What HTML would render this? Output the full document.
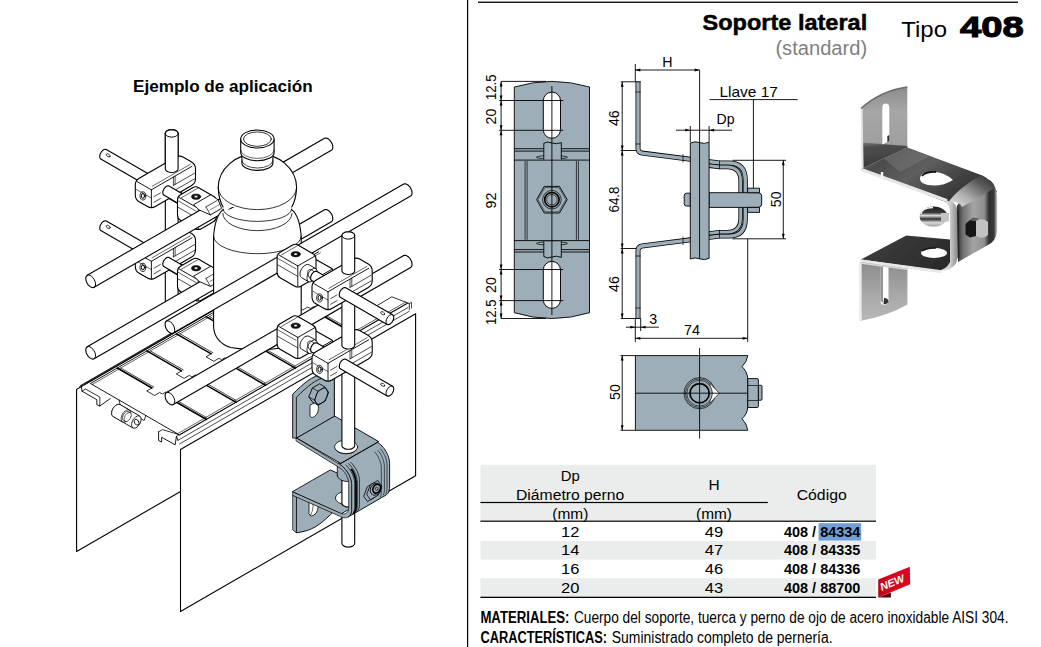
<!DOCTYPE html>
<html lang="es"><head><meta charset="utf-8"><title>Soporte lateral Tipo 408</title>
<style>
html,body{margin:0;padding:0;background:#fff;}
body{width:1041px;height:647px;overflow:hidden;font-family:"Liberation Sans",sans-serif;}
svg{display:block;font-family:"Liberation Sans",sans-serif;}
</style></head><body>
<svg width="1041" height="647" viewBox="0 0 1041 647">
<g stroke-linejoin="round" stroke-linecap="round">
<path d="M165.3 306.6 L165.6 307.7 L166.5 308.8 L167.9 309.6 L169.7 310.1 L171.7 310.3 L173.6 310.1 L175.4 309.6 L176.8 308.8 L177.8 307.7 L178.1 306.6 L178.1 133.4 L177.8 132.3 L176.8 131.2 L175.4 130.4 L173.6 129.9 L171.7 129.7 L169.7 129.9 L167.9 130.4 L166.5 131.2 L165.6 132.3 L165.3 133.4Z" fill="#fff" stroke="#000" stroke-width="1.1" stroke-linejoin="round"/><path d="M165.3 133.4 L165.6 134.5 L166.5 135.6 L167.9 136.4 L169.7 136.9 L171.7 137.1 L173.6 136.9 L175.4 136.4 L176.8 135.6 L177.8 134.5 L178.1 133.4" fill="none" stroke="#000" stroke-width="1" />
<path d="M76.6 389.5 L76.6 551.5 L206.5 476.5 L206.5 314.5Z" fill="#fff" stroke="#000" stroke-width="1.1" stroke-linejoin="round" />
<path d="M76.6 389.5 L311.7 253.8 L415.6 313.8 L180.5 449.5Z" fill="#fff" stroke="none" stroke-width="0" /><path d="M76.6 389.5L311.7 253.8" stroke="#000" stroke-width="0.9"/><path d="M79.5 386.6L307.7 254.9" stroke="#000" stroke-width="0.7"/><path d="M81.1 385.2L309.3 253.4" stroke="#000" stroke-width="0.7"/><path d="M85.5 383.6L313.7 251.9" stroke="#000" stroke-width="0.7"/><path d="M90.4 383.5 L318.6 251.8 L407.8 303.2 L179.6 435Z" fill="#fff" stroke="none" stroke-width="0" /><path d="M318.6 251.8 L90.4 383.5 L179.6 435 L407.8 303.2" fill="none" stroke="#000" stroke-width="0.9" /><path d="M92.2 384.5L320.4 252.8" stroke="#000" stroke-width="0.6"/><path d="M177.5 433.8L405.7 302" stroke="#000" stroke-width="0.6"/><path d="M117.3 368L151.9 388" stroke="#000" stroke-width="1.5"/><path d="M120.7 368L153.7 387" stroke="#000" stroke-width="0.7"/><path d="M167.5 397L206.5 419.5" stroke="#000" stroke-width="1.5"/><path d="M169.2 396L206.5 417.5" stroke="#000" stroke-width="0.7"/><path d="M151.9 388 L146.7 391 L154.5 395.5 L159.7 392.5 L162.3 394 L165.8 392 L171 395 L167.5 397" fill="none" stroke="#000" stroke-width="0.8" /><path d="M146.9 350.9L181.5 370.9" stroke="#000" stroke-width="1.5"/><path d="M150.4 350.9L183.3 369.9" stroke="#000" stroke-width="0.7"/><path d="M197.1 379.9L236.1 402.4" stroke="#000" stroke-width="1.5"/><path d="M198.9 378.9L236.1 400.4" stroke="#000" stroke-width="0.7"/><path d="M181.5 370.9 L176.3 373.9 L184.1 378.4 L189.3 375.4 L191.9 376.9 L195.4 374.9 L200.6 377.9 L197.1 379.9" fill="none" stroke="#000" stroke-width="0.8" /><path d="M176.5 333.8L211.2 353.8" stroke="#000" stroke-width="1.5"/><path d="M180 333.8L212.9 352.8" stroke="#000" stroke-width="0.7"/><path d="M226.7 362.8L265.7 385.3" stroke="#000" stroke-width="1.5"/><path d="M228.5 361.8L265.7 383.3" stroke="#000" stroke-width="0.7"/><path d="M211.2 353.8 L206 356.8 L213.8 361.3 L219 358.3 L221.5 359.8 L225 357.8 L230.2 360.8 L226.7 362.8" fill="none" stroke="#000" stroke-width="0.8" /><path d="M206.1 316.7L240.8 336.7" stroke="#000" stroke-width="1.5"/><path d="M209.6 316.7L242.5 335.7" stroke="#000" stroke-width="0.7"/><path d="M256.4 345.7L295.3 368.2" stroke="#000" stroke-width="1.5"/><path d="M258.1 344.7L295.3 366.2" stroke="#000" stroke-width="0.7"/><path d="M240.8 336.7 L235.6 339.7 L243.4 344.2 L248.6 341.2 L251.2 342.7 L254.6 340.7 L259.8 343.7 L256.4 345.7" fill="none" stroke="#000" stroke-width="0.8" /><path d="M235.8 299.6L270.4 319.6" stroke="#000" stroke-width="1.5"/><path d="M239.2 299.6L272.1 318.6" stroke="#000" stroke-width="0.7"/><path d="M286 328.6L324.9 351.1" stroke="#000" stroke-width="1.5"/><path d="M287.7 327.6L324.9 349.1" stroke="#000" stroke-width="0.7"/><path d="M270.4 319.6 L265.2 322.6 L273 327.1 L278.2 324.1 L280.8 325.6 L284.2 323.6 L289.4 326.6 L286 328.6" fill="none" stroke="#000" stroke-width="0.8" /><path d="M265.4 282.5L300 302.5" stroke="#000" stroke-width="1.5"/><path d="M268.8 282.5L301.7 301.5" stroke="#000" stroke-width="0.7"/><path d="M315.6 311.5L354.6 334" stroke="#000" stroke-width="1.5"/><path d="M317.3 310.5L354.6 332" stroke="#000" stroke-width="0.7"/><path d="M300 302.5 L294.8 305.5 L302.6 310 L307.8 307 L310.4 308.5 L313.9 306.5 L319.1 309.5 L315.6 311.5" fill="none" stroke="#000" stroke-width="0.8" /><path d="M295 265.4L329.6 285.4" stroke="#000" stroke-width="1.5"/><path d="M298.4 265.4L331.4 284.4" stroke="#000" stroke-width="0.7"/><path d="M345.2 294.4L384.2 316.9" stroke="#000" stroke-width="1.5"/><path d="M346.9 293.4L384.2 314.9" stroke="#000" stroke-width="0.7"/><path d="M329.6 285.4 L324.4 288.4 L332.2 292.9 L337.4 289.9 L340 291.4 L343.5 289.4 L348.7 292.4 L345.2 294.4" fill="none" stroke="#000" stroke-width="0.8" /><path d="M119 400 L120.7 407 L144.1 420.5 L145.9 415.5" fill="none" stroke="#000" stroke-width="0.8" /><path d="M119.8 404.6 L118.6 404.3 L117.2 404.6 L115.7 405.5 L114.2 406.8 L113 408.5 L112.1 410.5 L111.7 412.4 L111.7 414.1 L112.1 415.5 L113 416.4 L132.9 427.9 L134.2 428.2 L135.6 427.9 L137.1 427 L138.5 425.7 L139.7 424 L140.6 422 L141.1 420.1 L141.1 418.4 L140.6 417 L139.7 416.1Z" fill="#fff" stroke="#000" stroke-width="0.9" stroke-linejoin="round"/><path d="M139.7 416.1 L138.5 415.8 L137.1 416.1 L135.6 417 L134.2 418.3 L132.9 420 L132.1 422 L131.6 423.9 L131.6 425.6 L132.1 427 L132.9 427.9" fill="none" stroke="#000" stroke-width="0.8" /><path d="M119.8 404.6 L118.6 404.3 L117.2 404.6 L115.7 405.5 L114.2 406.8 L113 408.5 L112.1 410.5 L111.7 412.4 L111.7 414.1 L112.1 415.5 L113 416.4 L122.5 421.9 L123.8 422.2 L125.2 421.9 L126.7 421 L128.1 419.7 L129.3 418 L130.2 416 L130.7 414.1 L130.7 412.4 L130.2 411 L129.3 410.1Z" fill="#fff" stroke="#000" stroke-width="0.8" stroke-linejoin="round"/><path d="M129.3 410.1 L128.1 409.8 L126.7 410.1 L125.2 411 L123.8 412.3 L122.5 414 L121.7 416 L121.2 417.9 L121.2 419.6 L121.7 421 L122.5 421.9" fill="none" stroke="#000" stroke-width="0.7" /><path d="M128.4 411.7 L127.5 411.4 L126.5 411.6 L125.4 412.3 L124.3 413.3 L123.4 414.6 L122.8 416 L122.5 417.4 L122.5 418.7 L122.8 419.7 L123.4 420.3 L125.2 421.3 L126.1 421.6 L127.1 421.4 L128.2 420.7 L129.3 419.7 L130.2 418.4 L130.8 417 L131.2 415.6 L131.2 414.3 L130.8 413.3 L130.2 412.7Z" fill="#fff" stroke="#000" stroke-width="0.7" stroke-linejoin="round"/><path d="M130.2 412.7 L129.3 412.4 L128.2 412.6 L127.1 413.3 L126.1 414.3 L125.2 415.6 L124.5 417 L124.2 418.4 L124.2 419.7 L124.5 420.7 L125.2 421.3" fill="none" stroke="#000" stroke-width="0.6" /><ellipse cx="136.6" cy="422.2" rx="2.1" ry="3.2" fill="#fff" stroke="#000" stroke-width="0.8" transform="rotate(-30 136.6 422.2)"/><path d="M179.5 444L409.4 311.2" stroke="#000" stroke-width="0.7"/><path d="M178 440.3L407.9 307.6" stroke="#000" stroke-width="0.7"/><path d="M176.4 436.4L406.3 303.6" stroke="#000" stroke-width="0.7"/><path d="M158.6 431.8 L158.6 440.6 L161.6 442 L161.6 437.3 L175.2 444.8 L176.4 436.4 L178 440.3" fill="#fff" stroke="#000" stroke-width="0.9" /><path d="M158.6 431.8 L162.5 429.6 L178.6 434.5" fill="none" stroke="#000" stroke-width="0.8" /><path d="M81.1 385.2 L82 391.2 L96.8 399.7 L96.8 404.7 L99.8 406 L110.3 398.6" fill="none" stroke="#000" stroke-width="0.9" /><path d="M82 391.2 L85.5 389 L99.8 397 L99.8 406" fill="none" stroke="#000" stroke-width="0.8" /><path d="M376.5 306 L391.8 296.8 L409.3 303.6 L409.3 309.5" fill="none" stroke="#000" stroke-width="0.8" /><path d="M409.3 303.6 L411.5 302.3 L411.5 308" fill="none" stroke="#000" stroke-width="0.7" />
<path d="M106.3 221 L105.4 220.8 L104.2 221 L103 221.7 L101.8 222.8 L100.9 224.2 L100.1 225.8 L99.8 227.3 L99.8 228.7 L100.1 229.8 L100.8 230.6 L204.6 290.5 L205.6 290.7 L206.7 290.5 L208 289.8 L209.1 288.7 L210.1 287.3 L210.8 285.7 L211.2 284.2 L211.2 282.8 L210.8 281.7 L210.1 280.9Z" fill="#fff" stroke="#000" stroke-width="1.1" stroke-linejoin="round"/>
<ellipse cx="108.2" cy="226.9" rx="2.2" ry="1.3" fill="#fff" stroke="#000" stroke-width="0.7" transform="rotate(30 108.2 226.9)"/>
<path d="M106.3 149.5 L105.4 149.3 L104.2 149.5 L103 150.2 L101.8 151.3 L100.9 152.7 L100.1 154.3 L99.8 155.8 L99.8 157.2 L100.1 158.3 L100.8 159.1 L204.6 219 L205.6 219.2 L206.7 219 L208 218.3 L209.1 217.2 L210.1 215.8 L210.8 214.2 L211.2 212.7 L211.2 211.3 L210.8 210.2 L210.1 209.4Z" fill="#fff" stroke="#000" stroke-width="1.1" stroke-linejoin="round"/>
<ellipse cx="108.2" cy="155.4" rx="2.2" ry="1.3" fill="#fff" stroke="#000" stroke-width="0.7" transform="rotate(30 108.2 155.4)"/>
<path d="M135.3 266.5Q135.3 271 139.2 273.3L147.5 278Q151.4 280.3 155.3 278L191.6 257Q195.5 254.8 195.5 250.3L195.5 240.3Q195.5 235.8 191.6 233.5L183.4 228.8Q179.5 226.5 175.6 228.8L139.2 249.8Q135.3 252 135.3 256.5Z" fill="#fff" stroke="#000" stroke-width="1.1" stroke-linejoin="round"/><path d="M151.4 261.3L151.4 278.8" stroke="#000" stroke-width="0.9"/><path d="M151.4 261.3L192 237.8" stroke="#000" stroke-width="0.9"/><path d="M151.4 261.3L136.6 252.8" stroke="#000" stroke-width="0.9"/><path d="M154 268.1L160.4 264.4" stroke="#000" stroke-width="0.7"/><path d="M154 273.8L160.4 270.1" stroke="#000" stroke-width="0.7"/><path d="M173.4 256.9L194.7 244.6" stroke="#000" stroke-width="0.7"/><path d="M173.4 262.6L194.7 250.3" stroke="#000" stroke-width="0.7"/><path d="M173.4 248.6L173.4 256.9" stroke="#000" stroke-width="0.7"/><path d="M175.1 247.6L175.1 255.9" stroke="#000" stroke-width="0.7"/><path d="M152.2 257.8L190.3 235.8" stroke="#000" stroke-width="0.6"/><ellipse cx="142.9" cy="267.4" rx="2.9" ry="4.1" fill="#fff" stroke="#000" stroke-width="0.8"/><ellipse cx="142.9" cy="267.4" rx="1.6" ry="2.4" fill="none" stroke="#000" stroke-width="1"/><path d="M136.2 260.8L151.4 269.6" stroke="#000" stroke-width="0.6"/>
<path d="M169 257.6 L168.1 257.3 L167 257.5 L165.9 258.2 L164.8 259.3 L163.8 260.6 L163.2 262 L162.8 263.5 L162.8 264.8 L163.2 265.9 L163.8 266.6 L187.4 280.2 L188.4 280.4 L189.4 280.2 L190.6 279.6 L191.7 278.5 L192.6 277.2 L193.3 275.7 L193.7 274.3 L193.7 272.9 L193.3 271.9 L192.6 271.2Z" fill="#fff" stroke="#000" stroke-width="1.1" stroke-linejoin="round"/>
<path d="M177.5 286.4Q177.5 289.9 180.5 291.7L195.2 300.2Q198.3 301.9 201.3 300.2L213.4 293.2Q216.4 291.4 216.4 287.9L216.4 272.9Q216.4 269.4 213.4 267.7L198.7 259.2Q195.7 257.4 192.6 259.2L180.5 266.2Q177.5 267.9 177.5 271.4Z" fill="#fff" stroke="#000" stroke-width="1.1" stroke-linejoin="round"/><path d="M198.3 279.9L198.3 300.2" stroke="#000" stroke-width="0.9"/><path d="M198.3 279.9L215 270.3" stroke="#000" stroke-width="0.9"/><path d="M198.3 279.9L179.1 268.9" stroke="#000" stroke-width="0.9"/><path d="M178.3 278.9L198.3 290.4" stroke="#000" stroke-width="0.7"/><path d="M178.3 272.4L196.5 282.9" stroke="#000" stroke-width="0.6"/><path d="M181.4 269.2L197.8 259.7" stroke="#000" stroke-width="0.6"/><ellipse cx="196.1" cy="268.2" rx="4.6" ry="2.7" fill="#111" stroke="#000" stroke-width="0.5"/><ellipse cx="196.1" cy="268.2" rx="1.9" ry="1.1" fill="#fff" stroke="#000" stroke-width="0.4"/>
<path d="M331.4 221.8 L332.3 220.9 L332.8 219.5 L332.8 217.7 L332.3 215.8 L331.4 213.8 L330.1 212.1 L328.7 210.7 L327.2 209.8 L325.7 209.5 L324.5 209.8 L87.2 346.8 L86.3 347.8 L85.8 349.2 L85.8 350.9 L86.3 352.9 L87.2 354.8 L88.4 356.6 L89.9 357.9 L91.4 358.8 L92.9 359.1 L94.1 358.8Z" fill="#fff" stroke="#000" stroke-width="1.1" stroke-linejoin="round"/><path d="M94.1 358.8 L95 357.9 L95.5 356.5 L95.5 354.7 L95 352.8 L94.1 350.8 L92.9 349.1 L91.4 347.7 L89.9 346.8 L88.4 346.5 L87.2 346.8" fill="none" stroke="#000" stroke-width="1" />
<path d="M193.9 276.4 L199.1 281.4 L210.4 286.4 L221.6 279.9 L218.2 271.4 L211.2 266.4Z" fill="#fff" stroke="#000" stroke-width="0.9" stroke-linejoin="round"/><path d="M210.4 286.4L206 278.4" stroke="#000" stroke-width="0.7"/><path d="M206 278.4L217.3 271.9" stroke="#000" stroke-width="0.7"/><path d="M209.9 281.5L219.5 276" stroke="#000" stroke-width="0.5"/>
<path d="M135.3 195Q135.3 199.5 139.2 201.8L147.5 206.5Q151.4 208.8 155.3 206.5L191.6 185.5Q195.5 183.3 195.5 178.8L195.5 168.8Q195.5 164.3 191.6 162L183.4 157.3Q179.5 155 175.6 157.3L139.2 178.3Q135.3 180.5 135.3 185Z" fill="#fff" stroke="#000" stroke-width="1.1" stroke-linejoin="round"/><path d="M151.4 189.8L151.4 207.3" stroke="#000" stroke-width="0.9"/><path d="M151.4 189.8L192 166.3" stroke="#000" stroke-width="0.9"/><path d="M151.4 189.8L136.6 181.3" stroke="#000" stroke-width="0.9"/><path d="M154 196.6L160.4 192.9" stroke="#000" stroke-width="0.7"/><path d="M154 202.3L160.4 198.6" stroke="#000" stroke-width="0.7"/><path d="M173.4 185.4L194.7 173.1" stroke="#000" stroke-width="0.7"/><path d="M173.4 191.1L194.7 178.8" stroke="#000" stroke-width="0.7"/><path d="M173.4 177.1L173.4 185.4" stroke="#000" stroke-width="0.7"/><path d="M175.1 176.1L175.1 184.4" stroke="#000" stroke-width="0.7"/><path d="M152.2 186.3L190.3 164.3" stroke="#000" stroke-width="0.6"/><ellipse cx="142.9" cy="195.9" rx="2.9" ry="4.1" fill="#fff" stroke="#000" stroke-width="0.8"/><ellipse cx="142.9" cy="195.9" rx="1.6" ry="2.4" fill="none" stroke="#000" stroke-width="1"/><path d="M136.2 189.3L151.4 198.1" stroke="#000" stroke-width="0.6"/>
<path d="M165.3 168.8 L165.6 169.9 L166.5 171 L167.9 171.8 L169.7 172.3 L171.7 172.5 L173.6 172.3 L175.4 171.8 L176.8 171 L177.8 169.9 L178.1 168.8 L178.1 133.4 L177.8 132.3 L176.8 131.2 L175.4 130.4 L173.6 129.9 L171.7 129.7 L169.7 129.9 L167.9 130.4 L166.5 131.2 L165.6 132.3 L165.3 133.4Z" fill="#fff" stroke="#000" stroke-width="1.1" stroke-linejoin="round"/><path d="M165.3 133.4 L165.6 134.5 L166.5 135.6 L167.9 136.4 L169.7 136.9 L171.7 137.1 L173.6 136.9 L175.4 136.4 L176.8 135.6 L177.8 134.5 L178.1 133.4" fill="none" stroke="#000" stroke-width="1" />
<path d="M169 186.1 L168.1 185.8 L167 186 L165.9 186.7 L164.8 187.8 L163.8 189.1 L163.2 190.5 L162.8 192 L162.8 193.3 L163.2 194.4 L163.8 195.1 L187.4 208.7 L188.4 208.9 L189.4 208.7 L190.6 208.1 L191.7 207 L192.6 205.7 L193.3 204.2 L193.7 202.8 L193.7 201.4 L193.3 200.4 L192.6 199.7Z" fill="#fff" stroke="#000" stroke-width="1.1" stroke-linejoin="round"/>
<path d="M177.5 214.9Q177.5 218.4 180.5 220.2L195.2 228.7Q198.3 230.4 201.3 228.7L213.4 221.7Q216.4 219.9 216.4 216.4L216.4 201.4Q216.4 197.9 213.4 196.2L198.7 187.7Q195.7 185.9 192.6 187.7L180.5 194.7Q177.5 196.4 177.5 199.9Z" fill="#fff" stroke="#000" stroke-width="1.1" stroke-linejoin="round"/><path d="M198.3 208.4L198.3 228.7" stroke="#000" stroke-width="0.9"/><path d="M198.3 208.4L215 198.8" stroke="#000" stroke-width="0.9"/><path d="M198.3 208.4L179.1 197.4" stroke="#000" stroke-width="0.9"/><path d="M178.3 207.4L198.3 218.9" stroke="#000" stroke-width="0.7"/><path d="M178.3 200.9L196.5 211.4" stroke="#000" stroke-width="0.6"/><path d="M181.4 197.7L197.8 188.2" stroke="#000" stroke-width="0.6"/><ellipse cx="196.1" cy="196.7" rx="4.6" ry="2.7" fill="#111" stroke="#000" stroke-width="0.5"/><ellipse cx="196.1" cy="196.7" rx="1.9" ry="1.1" fill="#fff" stroke="#000" stroke-width="0.4"/>
<path d="M331.4 150.3 L332.3 149.4 L332.8 148 L332.8 146.2 L332.3 144.3 L331.4 142.3 L330.1 140.6 L328.7 139.2 L327.2 138.3 L325.7 138 L324.5 138.3 L87.2 275.3 L86.3 276.3 L85.8 277.7 L85.8 279.4 L86.3 281.4 L87.2 283.3 L88.4 285.1 L89.9 286.4 L91.4 287.3 L92.9 287.6 L94.1 287.3Z" fill="#fff" stroke="#000" stroke-width="1.1" stroke-linejoin="round"/><path d="M94.1 287.3 L95 286.4 L95.5 285 L95.5 283.2 L95 281.3 L94.1 279.3 L92.9 277.6 L91.4 276.2 L89.9 275.3 L88.4 275 L87.2 275.3" fill="none" stroke="#000" stroke-width="1" />
<path d="M193.9 204.9 L199.1 209.9 L210.4 214.9 L221.6 208.4 L218.2 199.9 L211.2 194.9Z" fill="#fff" stroke="#000" stroke-width="0.9" stroke-linejoin="round"/><path d="M210.4 214.9L206 206.9" stroke="#000" stroke-width="0.7"/><path d="M206 206.9L217.3 200.4" stroke="#000" stroke-width="0.7"/><path d="M209.9 210L219.5 204.5" stroke="#000" stroke-width="0.5"/>
<path d="M213.6 236.3L213.6 327Q214.6 342 230.4 347.5Q257.4 352 284.4 347.5Q300.2 342 301.2 327L301.2 236.3Q299.7 216 291.7 209.6L223.1 209.6Q215.1 216 213.6 236.3Z" fill="#fff" stroke="none" stroke-width="0" /><path d="M223.1 209.6Q215.1 216 213.6 236.3L213.6 327Q214.6 342 230.4 347.5Q257.4 352 284.4 347.5Q300.2 342 301.2 327L301.2 236.3Q299.7 216 291.7 209.6" fill="none" stroke="#000" stroke-width="1.1" /><path d="M213.6 236.3A43.8 17.4 0 0 0 301.2 236.3" fill="none" stroke="#000" stroke-width="0.8"/><path d="M222.8 213.5A34.3 17 0 0 0 292 213.5" fill="none" stroke="#000" stroke-width="0.8"/><path d="M223.1 209A34.3 12.4 0 0 0 291.7 209" fill="none" stroke="#000" stroke-width="0.8"/><path d="M218.2 187.6A39.2 34 0 0 1 296.6 187.6Q296 200 291.7 207L223.1 207Q218.8 200 218.2 187.6Z" fill="#fff" stroke="none" stroke-width="0" /><path d="M223.1 207Q218.8 200 218.2 187.6A39.2 34 0 0 1 296.6 187.6Q296 200 291.7 207" fill="none" stroke="#000" stroke-width="1.1" /><path d="M218.2 187.6A39.2 22 0 0 0 296.6 187.6" fill="none" stroke="#000" stroke-width="0.8"/><path d="M241.9 150L241.9 163A15.5 7.4 0 0 0 272.9 163L272.9 150Z" fill="#fff" stroke="#000" stroke-width="1.1" /><path d="M241.9 160.6A15.5 7.4 0 0 0 272.9 160.6" fill="none" stroke="#000" stroke-width="0.7"/><path d="M240.7 139L240.7 152.4A16.7 8.4 0 0 0 274.1 152.4L274.1 139Z" fill="#fff" stroke="#000" stroke-width="1.1" /><path d="M240.7 150A16.7 8.4 0 0 0 274.1 150" fill="none" stroke="#000" stroke-width="0.6"/><ellipse cx="257.4" cy="139" rx="16.7" ry="9" fill="#fff" stroke="#000" stroke-width="1.1"/><ellipse cx="257.4" cy="139.1" rx="13.9" ry="7.2" fill="none" stroke="#000" stroke-width="0.8"/>
<path d="M180.5 449.5 L180.5 611.5 L415.6 475.8 L415.6 313.8Z" fill="#fff" stroke="#000" stroke-width="1.1" stroke-linejoin="round" />
<path d="M410.6 267.6 L411.5 266.6 L412 265.2 L412 263.5 L411.5 261.5 L410.6 259.6 L409.4 257.8 L407.9 256.5 L406.4 255.6 L405 255.3 L403.7 255.6 L166.4 392.6 L165.5 393.5 L165.1 394.9 L165.1 396.7 L165.5 398.6 L166.4 400.6 L167.7 402.3 L169.1 403.7 L170.7 404.6 L172.1 404.9 L173.3 404.6Z" fill="#fff" stroke="#000" stroke-width="1.1" stroke-linejoin="round"/><path d="M173.3 404.6 L174.2 403.6 L174.7 402.2 L174.7 400.5 L174.2 398.5 L173.3 396.6 L172.1 394.8 L170.7 393.5 L169.1 392.6 L167.7 392.3 L166.4 392.6" fill="none" stroke="#000" stroke-width="1" />
<path d="M302.2 341.1Q302.2 341.9 302.9 342.4L319.7 352Q320.4 352.4 321.1 352L331.8 345.9Q332.5 345.4 332.5 344.6L332.5 341.2Q332.5 340.4 331.8 340L315 330.4Q314.3 329.9 313.6 330.4L302.9 336.5Q302.2 336.9 302.2 337.8Z" fill="#fff" stroke="#000" stroke-width="1.1" stroke-linejoin="round"/><path d="M320.4 347.4L320.4 352.1" stroke="#000" stroke-width="0.9"/><path d="M320.4 347.4L331.5 341" stroke="#000" stroke-width="0.9"/><path d="M320.4 347.4L303.6 337.8" stroke="#000" stroke-width="0.9"/><path d="M277.1 343.9Q277.1 347.4 280.1 349.2L294.8 357.7Q297.8 359.4 300.9 357.7L313 350.7Q316 348.9 316 345.4L316 330.4Q316 326.9 313 325.2L298.3 316.7Q295.2 314.9 292.2 316.7L280.1 323.7Q277.1 325.4 277.1 328.9Z" fill="#fff" stroke="#000" stroke-width="1.1" stroke-linejoin="round"/><path d="M297.8 337.4L297.8 357.7" stroke="#000" stroke-width="0.9"/><path d="M297.8 337.4L314.6 327.8" stroke="#000" stroke-width="0.9"/><path d="M297.8 337.4L278.7 326.4" stroke="#000" stroke-width="0.9"/><path d="M277.9 336.4L297.8 347.9" stroke="#000" stroke-width="0.7"/><path d="M277.9 329.9L296.1 340.4" stroke="#000" stroke-width="0.6"/><path d="M281 326.7L297.4 317.2" stroke="#000" stroke-width="0.6"/><ellipse cx="295.7" cy="325.7" rx="4.6" ry="2.7" fill="#111" stroke="#000" stroke-width="0.5"/><ellipse cx="295.7" cy="325.7" rx="1.9" ry="1.1" fill="#fff" stroke="#000" stroke-width="0.4"/><path d="M308.9 336.3 L307.6 335.9 L306 336.3 L304.4 337.2 L302.8 338.7 L301.5 340.6 L300.5 342.6 L300 344.7 L300 346.6 L300.5 348.1 L301.5 349.1 L308.4 353.1 L309.8 353.5 L311.3 353.1 L312.9 352.2 L314.5 350.7 L315.8 348.8 L316.8 346.8 L317.3 344.7 L317.3 342.8 L316.8 341.3 L315.8 340.3Z" fill="#fff" stroke="#000" stroke-width="0.9" stroke-linejoin="round"/><path d="M315.8 340.3 L314.5 339.9 L313 340.3 L311.3 341.2 L309.8 342.7 L308.4 344.6 L307.5 346.6 L307 348.7 L307 350.6 L307.5 352.1 L308.4 353.1" fill="none" stroke="#000" stroke-width="0.8" /><ellipse cx="312.1" cy="346.7" rx="3.6" ry="6.3" fill="none" stroke="#000" stroke-width="0.7" transform="rotate(-30 312.1 346.7)"/>
<path d="M296.4 497.5 L296.4 532.8 L300.2 532.2 L304 531.4 L307.8 530.3 L311.5 528.8 L315.3 526.9 L319.1 524.4 L322.9 521.5 L326.7 518.2 L330.5 514.6 L334.3 510.9 L334.3 475.5Z" fill="#9daeb9" stroke="#000" stroke-width="0.9" stroke-linejoin="round"/><path d="M292.7 495.4 L292.7 529.7 L296.4 532.8 L296.4 497.5Z" fill="#9daeb9" stroke="#000" stroke-width="0.7" stroke-linejoin="round"/><path d="M309 500.1L309 513.6Q310.7 518.6 316.2 513.1Q319.7 507.1 317.7 496.1Z" fill="#fff" stroke="#000" stroke-width="0.8" /><path d="M311.7 498.6Q315.2 506.1 310.7 515.1" fill="none" stroke="#000" stroke-width="0.6" /><path d="M341.9 543.4 L342.2 544.5 L343.2 545.6 L344.6 546.4 L346.4 546.9 L348.3 547.1 L350.3 546.9 L352.1 546.4 L353.5 545.6 L354.4 544.5 L354.7 543.4 L354.7 507.2 L354.4 506.1 L353.5 505.1 L352.1 504.3 L350.3 503.7 L348.3 503.6 L346.4 503.7 L344.6 504.3 L343.2 505.1 L342.2 506.1 L341.9 507.2Z" fill="#fff" stroke="#000" stroke-width="1.1" stroke-linejoin="round"/><path d="M292.7 491.9 L341.2 513.8 L379.2 491.9 L330.7 470.1Z" fill="#9daeb9" stroke="#000" stroke-width="0.9" stroke-linejoin="round"/><ellipse cx="346.6" cy="498" rx="11.2" ry="6.6" fill="#fff" stroke="#000" stroke-width="0.8"/><path d="M341.9 503.4 L342.2 504.5 L343.2 505.5 L344.6 506.3 L346.4 506.9 L348.3 507 L350.3 506.9 L352.1 506.3 L353.5 505.5 L354.4 504.5 L354.7 503.4 L354.7 460.6 L354.4 459.5 L353.5 458.4 L352.1 457.6 L350.3 457.1 L348.3 456.9 L346.4 457.1 L344.6 457.6 L343.2 458.4 L342.2 459.5 L341.9 460.6Z" fill="#fff" stroke="#000" stroke-width="1.1" stroke-linejoin="round"/><path d="M337.3 475.6L337.3 466.6A11 9 0 0 1 359.3 466.6L359.3 475.6A11 6 0 0 1 337.3 475.6Z" fill="#9daeb9" stroke="#000" stroke-width="0.8"/><path d="M339.5 464.3 L340.7 465.1 L341.9 465.9 L343 466.9 L344.1 468 L345.2 469.3 L346.2 470.5 L347.2 471.9 L348.1 473.4 L348.9 474.8 L349.6 476.3 L350.2 477.9 L350.7 479.4 L351.1 480.9 L351.4 482.4 L351.6 483.9 L351.6 485.3 L351.6 509.1 L351.6 510.5 L351.4 511.7 L351.1 512.9 L350.7 514 L350.2 514.9 L349.6 515.7 L348.9 516.4 L348.1 517 L386 495.1 L386.8 494.5 L387.5 493.8 L388.1 493 L388.6 492.1 L389 491 L389.3 489.8 L389.5 488.6 L389.6 487.2 L389.6 463.4 L389.5 462 L389.3 460.5 L389 459 L388.6 457.5 L388.1 456 L387.5 454.4 L386.8 452.9 L386 451.5 L385.1 450 L384.2 448.6 L383.1 447.4 L382.1 446.1 L380.9 445 L379.8 444 L378.6 443.2 L377.4 442.4Z" fill="#9daeb9" stroke="#000" stroke-width="0.9" stroke-linejoin="round"/><path d="M380.5 448.9 L381.6 450.1 L382.5 451.5 L383.4 453 L384.2 454.4 L384.9 455.9 L385.5 457.5 L386 459 L386.4 460.5 L386.7 462 L386.9 463.5 L387 464.9 L387 488.8 L386.9 490.1 L386.7 491.3 L386.4 492.5 L386 493.6" fill="none" stroke="#000" stroke-width="0.6" /><path d="M377.9 450.4 L379 451.6 L379.9 453 L380.8 454.5 L381.6 455.9 L382.3 457.4 L382.9 459 L383.4 460.5 L383.8 462 L384.1 463.5 L384.3 465 L384.4 466.4 L384.4 490.2 L384.3 491.6 L384.1 492.8 L383.8 494 L383.4 495.1" fill="none" stroke="#000" stroke-width="0.6" /><path d="M374.9 452.1 L375.9 453.4 L376.9 454.8 L377.8 456.2 L378.6 457.7 L379.3 459.2 L379.9 460.7 L380.4 462.3 L380.8 463.8 L381.1 465.3 L381.3 466.7 L381.3 468.1 L381.3 492 L381.3 493.3 L381.1 494.6 L380.8 495.8 L380.4 496.8" fill="none" stroke="#000" stroke-width="0.6" /><path d="M346 465.2 L347.2 466.3 L348.2 467.5 L349.3 468.8 L350.2 470.2 L351.1 471.6 L351.9 473.1 L352.6 474.6 L353.2 476.1 L353.7 477.7 L354.1 479.2 L354.4 480.7 L354.6 482.1 L354.7 483.5 L354.7 507.4 L354.6 508.7 L354.4 510 L354.1 511.2 L353.7 512.2 L353.2 513.2 L352.6 514" fill="none" stroke="#000" stroke-width="0.7" /><path d="M348.6 463.7 L349.8 464.8 L350.8 466 L351.9 467.3 L352.8 468.7 L353.7 470.1 L354.5 471.6 L355.2 473.1 L355.8 474.6 L356.3 476.2 L356.7 477.7 L357 479.2 L357.2 480.6 L357.3 482 L357.3 505.9 L357.2 507.2 L357 508.5 L356.7 509.7 L356.3 510.7 L355.8 511.7 L355.2 512.5" fill="none" stroke="#000" stroke-width="0.7" /><path d="M350.8 462.4 L351.9 463.5 L353 464.8 L354 466 L355 467.4 L355.9 468.9 L356.7 470.3 L357.4 471.8 L358 473.4 L358.5 474.9 L358.9 476.4 L359.2 477.9 L359.4 479.4 L359.4 480.8 L359.4 504.6 L359.4 506 L359.2 507.2 L358.9 508.4 L358.5 509.5 L358 510.4 L357.4 511.2" fill="none" stroke="#000" stroke-width="0.7" /><path d="M351.5 469.4 L352.4 470.9 L353.2 472.3 L353.9 473.8 L354.5 475.4 L355 476.9 L355.4 478.4 L355.7 479.9 L355.9 481.4 L356 482.8 L356 506.6 L355.9 508 L355.7 509.2 L355.4 510.4 L355 511.5 L354.5 512.4 L353.9 513.2" fill="none" stroke="#000" stroke-width="1.8" /><path d="M378.6 487.6 L374.9 482.3 L367.4 486.6 L363.7 496.2 L367.4 501.5 L374.9 497.2Z" fill="#9daeb9" stroke="#000" stroke-width="0.8" /><path d="M381.6 485.8 L377.9 480.5 L370.4 484.8 L366.7 494.4 L370.4 499.7 L377.9 495.4Z" fill="#9daeb9" stroke="#000" stroke-width="0.8" /><ellipse cx="375.6" cy="489.3" rx="5.2" ry="6.2" fill="#9daeb9" stroke="#000" stroke-width="0.8" transform="rotate(30 375.6 489.3)"/><ellipse cx="376.7" cy="488.7" rx="3.6" ry="4.6" fill="none" stroke="#000" stroke-width="1.7" transform="rotate(30 376.7 488.7)"/><ellipse cx="376.7" cy="488.7" rx="1.4" ry="1.8" fill="none" stroke="#000" stroke-width="0.6" transform="rotate(30 376.7 488.7)"/><path d="M296.4 437.8 L339.5 464.3 L340.7 465.1 L341.9 465.9 L343 466.9 L344.1 468 L345.2 469.3 L346.2 470.5 L347.2 471.9 L348.1 473.4 L348.9 474.8 L349.6 476.3 L350.2 477.9 L350.7 479.4 L351.1 480.9 L351.4 482.4 L351.6 483.9 L351.6 485.3 L351.6 509.1 L351.6 510.5 L351.4 511.7 L351.1 512.9 L350.7 514 L350.2 514.9 L349.6 515.7 L348.9 516.4 L348.1 517 L347.2 517.4 L346.2 517.7 L345.2 517.8 L344.1 517.8 L343 517.6 L341.9 517.2 L340.7 516.8 L339.5 516.1 L292.7 495.4 L292.7 491.9 L339.5 512.8 L340.4 513.2 L341.3 513.6 L342.2 513.8 L343 514 L343.8 514 L344.6 513.9 L345.3 513.7 L346 513.4 L346.6 513 L347.1 512.4 L347.6 511.8 L348 511.1 L348.3 510.3 L348.5 509.4 L348.6 508.5 L348.7 507.4 L348.7 483.6 L348.6 482.5 L348.5 481.4 L348.3 480.3 L348 479.1 L347.6 478 L347.1 476.8 L346.6 475.7 L346 474.6 L345.3 473.5 L344.6 472.4 L343.8 471.5 L343 470.5 L342.2 469.7 L341.3 468.9 L340.4 468.3 L339.5 467.7 L296.4 441.2Z" fill="#9daeb9" stroke="#000" stroke-width="0.7" stroke-linejoin="round"/><path d="M296.4 437.8 L340.8 463.4 L378.7 441.6 L334.3 415.9Z" fill="#9daeb9" stroke="#000" stroke-width="0.9" stroke-linejoin="round"/><path d="M340.8 463.4 L378.7 441.6" fill="none" stroke="#000" stroke-width="0.6" /><ellipse cx="346.1" cy="446.9" rx="11.6" ry="6.9" fill="#fff" stroke="#000" stroke-width="0.8"/><path d="M335.5 449.3A11.4 6.7 0 0 0 356.7 449.3" fill="none" stroke="#000" stroke-width="0.6"/><path d="M292.7 437.7 L292.7 394.2 L296.5 390.5 L300.3 386.9 L304.1 383.6 L307.9 380.7 L311.7 378.2 L315.5 376.3 L319.3 374.8 L323.1 373.7 L326.9 372.9 L330.7 372.3 L334.3 375.4 L334.3 415.9 L296.4 437.8Z" fill="#9daeb9" stroke="#000" stroke-width="0.9" stroke-linejoin="round"/><path d="M296.4 437.8 L296.4 397.3 L300.2 393.6 L304 390 L307.8 386.7 L311.5 383.8 L315.3 381.4 L319.1 379.4 L322.9 377.9 L326.7 376.8 L330.5 376 L334.3 375.4 L334.3 415.9Z" fill="#9daeb9" stroke="#000" stroke-width="0.8" stroke-linejoin="round"/><path d="M310 405.6L310 416.1Q312 419.6 316.5 414.6Q320 409.6 317.5 401.6Z" fill="#fff" stroke="#000" stroke-width="0.8" /><path d="M319.2 384 L312.3 388 L308.8 396.9 L312.3 401.8 L317.9 405.1 L324.9 401.1 L328.3 392.2 L324.9 387.2Z" fill="#9daeb9" stroke="#000" stroke-width="0.9" stroke-linejoin="round"/><path d="M328.3 392.2 L324.9 387.2 L317.9 391.2 L314.5 400.2 L317.9 405.1 L324.9 401.1Z" fill="#9daeb9" stroke="#000" stroke-width="0.8" stroke-linejoin="round"/><path d="M312.3 388 L317.9 391.2" fill="none" stroke="#000" stroke-width="0.7" /><path d="M308.8 396.9 L314.5 400.2" fill="none" stroke="#000" stroke-width="0.7" /><path d="M327.6 392.6 L327.4 390.8 L326.8 389.4 L325.8 388.5 L324.5 388.1 L323 388.3 L321.4 389 L319.8 390.1 L318.3 391.7 L317 393.6 L316 395.7 L315.4 397.8 L315.2 399.8 L315.4 401.5 L316 402.9 L317 403.8 L318.3 404.2 L319.8 404 L321.4 403.4 L323 402.2 L324.5 400.6 L325.8 398.7 L326.8 396.6 L327.4 394.5Z" fill="none" stroke="#000" stroke-width="0.6" />
<path d="M341.9 445.6 L342.2 446.7 L343.2 447.8 L344.6 448.6 L346.4 449.1 L348.3 449.3 L350.3 449.1 L352.1 448.6 L353.5 447.8 L354.4 446.7 L354.7 445.6 L354.7 360.3 L354.4 359.2 L353.5 358.1 L352.1 357.3 L350.3 356.8 L348.3 356.6 L346.4 356.8 L344.6 357.3 L343.2 358.1 L342.2 359.2 L341.9 360.3Z" fill="#fff" stroke="#000" stroke-width="1.1" stroke-linejoin="round"/>
<path d="M316.9 342.9 L316 342.7 L314.9 342.9 L313.7 343.6 L312.6 344.6 L311.7 345.9 L311 347.4 L310.7 348.9 L310.7 350.2 L311 351.3 L311.7 352 L324.5 359.3 L325.4 359.6 L326.5 359.4 L327.6 358.7 L328.7 357.6 L329.7 356.3 L330.3 354.9 L330.7 353.4 L330.7 352.1 L330.3 351 L329.7 350.3Z" fill="#fff" stroke="#000" stroke-width="1.1" stroke-linejoin="round"/>
<path d="M312 368.5Q312 373 315.9 375.3L324.1 380Q328 382.3 331.9 380L368.3 359Q372.2 356.8 372.2 352.3L372.2 342.3Q372.2 337.8 368.3 335.5L360.1 330.8Q356.2 328.5 352.3 330.8L315.9 351.8Q312 354 312 358.5Z" fill="#fff" stroke="#000" stroke-width="1.1" stroke-linejoin="round"/><path d="M328 363.3L328 380.8" stroke="#000" stroke-width="0.9"/><path d="M328 363.3L368.7 339.8" stroke="#000" stroke-width="0.9"/><path d="M328 363.3L313.3 354.8" stroke="#000" stroke-width="0.9"/><path d="M330.6 370.1L337 366.4" stroke="#000" stroke-width="0.7"/><path d="M330.6 375.8L337 372.1" stroke="#000" stroke-width="0.7"/><path d="M350 358.9L371.3 346.6" stroke="#000" stroke-width="0.7"/><path d="M350 364.6L371.3 352.3" stroke="#000" stroke-width="0.7"/><path d="M350 350.6L350 358.9" stroke="#000" stroke-width="0.7"/><path d="M351.8 349.6L351.8 357.9" stroke="#000" stroke-width="0.7"/><path d="M328.9 359.8L367 337.8" stroke="#000" stroke-width="0.6"/><ellipse cx="319.6" cy="369.4" rx="2.9" ry="4.1" fill="#fff" stroke="#000" stroke-width="0.8"/><ellipse cx="319.6" cy="369.4" rx="1.6" ry="2.4" fill="none" stroke="#000" stroke-width="1"/><path d="M312.9 362.8L328 371.6" stroke="#000" stroke-width="0.6"/>
<path d="M345.8 359.3 L344.9 359.1 L343.7 359.3 L342.5 360 L341.3 361.1 L340.3 362.5 L339.6 364 L339.3 365.6 L339.3 367 L339.6 368.1 L340.3 368.8 L387.1 395.9 L388.1 396.1 L389.3 395.9 L390.5 395.2 L391.7 394.1 L392.6 392.7 L393.4 391.1 L393.7 389.6 L393.7 388.2 L393.4 387.1 L392.6 386.3Z" fill="#fff" stroke="#000" stroke-width="1.1" stroke-linejoin="round"/><path d="M392.6 386.3 L391.7 386.1 L390.5 386.3 L389.3 387 L388.1 388.1 L387.2 389.5 L386.4 391.1 L386.1 392.6 L386.1 394 L386.4 395.1 L387.1 395.9" fill="none" stroke="#000" stroke-width="1" />
<ellipse cx="382.7" cy="384.8" rx="2.2" ry="1.3" fill="#fff" stroke="#000" stroke-width="0.7" transform="rotate(30 382.7 384.8)"/>
<path d="M410.6 196.1 L411.5 195.1 L412 193.7 L412 192 L411.5 190 L410.6 188.1 L409.4 186.3 L407.9 185 L406.4 184.1 L405 183.8 L403.7 184.1 L166.4 321.1 L165.5 322 L165.1 323.4 L165.1 325.2 L165.5 327.1 L166.4 329.1 L167.7 330.8 L169.1 332.2 L170.7 333.1 L172.1 333.4 L173.3 333.1Z" fill="#fff" stroke="#000" stroke-width="1.1" stroke-linejoin="round"/><path d="M173.3 333.1 L174.2 332.1 L174.7 330.7 L174.7 329 L174.2 327 L173.3 325.1 L172.1 323.3 L170.7 322 L169.1 321.1 L167.7 320.8 L166.4 321.1" fill="none" stroke="#000" stroke-width="1" />
<path d="M302.2 269.6Q302.2 270.4 302.9 270.9L319.7 280.5Q320.4 280.9 321.1 280.5L331.8 274.4Q332.5 273.9 332.5 273.1L332.5 269.8Q332.5 268.9 331.8 268.5L315 258.9Q314.3 258.4 313.6 258.9L302.9 265Q302.2 265.4 302.2 266.2Z" fill="#fff" stroke="#000" stroke-width="1.1" stroke-linejoin="round"/><path d="M320.4 275.9L320.4 280.6" stroke="#000" stroke-width="0.9"/><path d="M320.4 275.9L331.5 269.5" stroke="#000" stroke-width="0.9"/><path d="M320.4 275.9L303.6 266.3" stroke="#000" stroke-width="0.9"/><path d="M277.1 272.4Q277.1 275.9 280.1 277.7L294.8 286.2Q297.8 287.9 300.9 286.2L313 279.2Q316 277.4 316 273.9L316 258.9Q316 255.4 313 253.7L298.3 245.2Q295.2 243.4 292.2 245.2L280.1 252.2Q277.1 253.9 277.1 257.4Z" fill="#fff" stroke="#000" stroke-width="1.1" stroke-linejoin="round"/><path d="M297.8 265.9L297.8 286.2" stroke="#000" stroke-width="0.9"/><path d="M297.8 265.9L314.6 256.3" stroke="#000" stroke-width="0.9"/><path d="M297.8 265.9L278.7 254.9" stroke="#000" stroke-width="0.9"/><path d="M277.9 264.9L297.8 276.4" stroke="#000" stroke-width="0.7"/><path d="M277.9 258.4L296.1 268.9" stroke="#000" stroke-width="0.6"/><path d="M281 255.2L297.4 245.7" stroke="#000" stroke-width="0.6"/><ellipse cx="295.7" cy="254.2" rx="4.6" ry="2.7" fill="#111" stroke="#000" stroke-width="0.5"/><ellipse cx="295.7" cy="254.2" rx="1.9" ry="1.1" fill="#fff" stroke="#000" stroke-width="0.4"/><path d="M308.9 264.8 L307.6 264.4 L306 264.8 L304.4 265.7 L302.8 267.2 L301.5 269.1 L300.5 271.1 L300 273.2 L300 275.1 L300.5 276.6 L301.5 277.6 L308.4 281.6 L309.8 282 L311.3 281.6 L312.9 280.7 L314.5 279.2 L315.8 277.3 L316.8 275.3 L317.3 273.2 L317.3 271.3 L316.8 269.8 L315.8 268.8Z" fill="#fff" stroke="#000" stroke-width="0.9" stroke-linejoin="round"/><path d="M315.8 268.8 L314.5 268.4 L313 268.8 L311.3 269.7 L309.8 271.2 L308.4 273.1 L307.5 275.1 L307 277.2 L307 279.1 L307.5 280.6 L308.4 281.6" fill="none" stroke="#000" stroke-width="0.8" /><ellipse cx="312.1" cy="275.2" rx="3.6" ry="6.3" fill="none" stroke="#000" stroke-width="0.7" transform="rotate(-30 312.1 275.2)"/>
<path d="M316.9 271.4 L316 271.2 L314.9 271.4 L313.7 272.1 L312.6 273.1 L311.7 274.4 L311 275.9 L310.7 277.4 L310.7 278.7 L311 279.8 L311.7 280.5 L324.5 287.8 L325.4 288.1 L326.5 287.9 L327.6 287.2 L328.7 286.1 L329.7 284.8 L330.3 283.4 L330.7 281.9 L330.7 280.6 L330.3 279.5 L329.7 278.8Z" fill="#fff" stroke="#000" stroke-width="1.1" stroke-linejoin="round"/>
<path d="M341.9 345.3 L342.2 346.4 L343.2 347.5 L344.6 348.3 L346.4 348.8 L348.3 349 L350.3 348.8 L352.1 348.3 L353.5 347.5 L354.4 346.4 L354.7 345.3 L354.7 288.8 L354.4 287.7 L353.5 286.6 L352.1 285.8 L350.3 285.3 L348.3 285.1 L346.4 285.3 L344.6 285.8 L343.2 286.6 L342.2 287.7 L341.9 288.8Z" fill="#fff" stroke="#000" stroke-width="1.1" stroke-linejoin="round"/>
<path d="M312 297Q312 301.5 315.9 303.8L324.1 308.5Q328 310.8 331.9 308.5L368.3 287.5Q372.2 285.3 372.2 280.8L372.2 270.8Q372.2 266.3 368.3 264L360.1 259.3Q356.2 257 352.3 259.3L315.9 280.3Q312 282.5 312 287Z" fill="#fff" stroke="#000" stroke-width="1.1" stroke-linejoin="round"/><path d="M328 291.8L328 309.3" stroke="#000" stroke-width="0.9"/><path d="M328 291.8L368.7 268.3" stroke="#000" stroke-width="0.9"/><path d="M328 291.8L313.3 283.3" stroke="#000" stroke-width="0.9"/><path d="M330.6 298.6L337 294.9" stroke="#000" stroke-width="0.7"/><path d="M330.6 304.3L337 300.6" stroke="#000" stroke-width="0.7"/><path d="M350 287.4L371.3 275.1" stroke="#000" stroke-width="0.7"/><path d="M350 293.1L371.3 280.8" stroke="#000" stroke-width="0.7"/><path d="M350 279.1L350 287.4" stroke="#000" stroke-width="0.7"/><path d="M351.8 278.1L351.8 286.4" stroke="#000" stroke-width="0.7"/><path d="M328.9 288.3L367 266.3" stroke="#000" stroke-width="0.6"/><ellipse cx="319.6" cy="297.9" rx="2.9" ry="4.1" fill="#fff" stroke="#000" stroke-width="0.8"/><ellipse cx="319.6" cy="297.9" rx="1.6" ry="2.4" fill="none" stroke="#000" stroke-width="1"/><path d="M312.9 291.3L328 300.1" stroke="#000" stroke-width="0.6"/>
<path d="M341.9 270.8 L342.2 271.9 L343.2 273 L344.6 273.8 L346.4 274.3 L348.3 274.5 L350.3 274.3 L352.1 273.8 L353.5 273 L354.4 271.9 L354.7 270.8 L354.7 235.4 L354.4 234.3 L353.5 233.2 L352.1 232.4 L350.3 231.9 L348.3 231.7 L346.4 231.9 L344.6 232.4 L343.2 233.2 L342.2 234.3 L341.9 235.4Z" fill="#fff" stroke="#000" stroke-width="1.1" stroke-linejoin="round"/><path d="M341.9 235.4 L342.2 236.5 L343.2 237.6 L344.6 238.4 L346.4 238.9 L348.3 239.1 L350.3 238.9 L352.1 238.4 L353.5 237.6 L354.4 236.5 L354.7 235.4" fill="none" stroke="#000" stroke-width="1" />
<path d="M345.8 287.8 L344.9 287.6 L343.7 287.8 L342.5 288.5 L341.3 289.6 L340.3 291 L339.6 292.5 L339.3 294.1 L339.3 295.5 L339.6 296.6 L340.3 297.3 L387.1 324.4 L388.1 324.6 L389.3 324.4 L390.5 323.7 L391.7 322.6 L392.6 321.2 L393.4 319.6 L393.7 318.1 L393.7 316.7 L393.4 315.6 L392.6 314.8Z" fill="#fff" stroke="#000" stroke-width="1.1" stroke-linejoin="round"/><path d="M392.6 314.8 L391.7 314.6 L390.5 314.8 L389.3 315.5 L388.1 316.6 L387.2 318 L386.4 319.6 L386.1 321.1 L386.1 322.5 L386.4 323.6 L387.1 324.4" fill="none" stroke="#000" stroke-width="1" />
<ellipse cx="382.7" cy="313.2" rx="2.2" ry="1.3" fill="#fff" stroke="#000" stroke-width="0.7" transform="rotate(30 382.7 313.2)"/>
</g>
<defs>
<filter id="pb" x="-5%" y="-5%" width="110%" height="110%"><feGaussianBlur stdDeviation="0.75"/></filter>
<linearGradient id="pf1" x1="0" y1="0" x2="0" y2="1"><stop offset="0" stop-color="#8c8c8c"/><stop offset="0.3" stop-color="#a6a6a6"/><stop offset="1" stop-color="#9a9a9a"/></linearGradient>
<linearGradient id="pf1b" x1="0" y1="0" x2="0.18" y2="1"><stop offset="0" stop-color="#7a7a7a"/><stop offset="0.2" stop-color="#4e4e4e"/><stop offset="1" stop-color="#3a3a3a"/></linearGradient>
<linearGradient id="pf2" x1="0" y1="0" x2="1" y2="0.55"><stop offset="0" stop-color="#767676"/><stop offset="0.22" stop-color="#4c4c4c"/><stop offset="0.5" stop-color="#5e5e5e"/><stop offset="0.8" stop-color="#404040"/><stop offset="1" stop-color="#303030"/></linearGradient>
<linearGradient id="pf3" x1="0" y1="0" x2="1" y2="0"><stop offset="0" stop-color="#2a2a2a"/><stop offset="0.14" stop-color="#6e6e6e"/><stop offset="0.4" stop-color="#a4a4a4"/><stop offset="0.68" stop-color="#8e8e8e"/><stop offset="0.8" stop-color="#2e2e2e"/><stop offset="0.92" stop-color="#3a3a3a"/><stop offset="1" stop-color="#cfcfcf"/></linearGradient>
<linearGradient id="pf3b" x1="0" y1="1" x2="1" y2="0"><stop offset="0" stop-color="#e4e4e4"/><stop offset="0.35" stop-color="#b0b0b0"/><stop offset="0.7" stop-color="#5a5a5a"/><stop offset="1" stop-color="#2a2a2a"/></linearGradient>
<linearGradient id="pf4" x1="0" y1="0" x2="1" y2="0.4"><stop offset="0" stop-color="#6e6e6e"/><stop offset="0.3" stop-color="#3a3a3a"/><stop offset="1" stop-color="#2c2c2c"/></linearGradient>
<linearGradient id="pf5" x1="0" y1="0" x2="0" y2="1"><stop offset="0" stop-color="#8c8c8c"/><stop offset="0.5" stop-color="#a6a6a6"/><stop offset="1" stop-color="#b8b8b8"/></linearGradient>
<linearGradient id="pf6" x1="0" y1="0" x2="0" y2="1"><stop offset="0" stop-color="#1e1e1e"/><stop offset="0.3" stop-color="#3a3a3a"/><stop offset="0.45" stop-color="#dcdcdc"/><stop offset="0.62" stop-color="#303030"/><stop offset="0.8" stop-color="#d8d8d8"/><stop offset="1" stop-color="#a0a0a0"/></linearGradient>
<linearGradient id="pf7" x1="0" y1="0" x2="1" y2="0"><stop offset="0" stop-color="#f2f2f2"/><stop offset="0.6" stop-color="#d0d0d0"/><stop offset="1" stop-color="#8a8a8a"/></linearGradient>
</defs>
<g filter="url(#pb)">
<path d="M861 108.5Q880 91 907.3 87L907.3 147.5L862 168.6Z" fill="url(#pf1)" stroke="none" stroke-width="0" />
<path d="M862 142.5L907.3 146L907.3 147.5L862 168.6Z" fill="url(#pf1b)" stroke="none" stroke-width="0" />
<path d="M861.6 108.5L862.6 168" fill="none" stroke="#e4e4e4" stroke-width="2" />
<path d="M861 108.5Q880 91 907.3 87" fill="none" stroke="#6a6a6a" stroke-width="1.3" />
<path d="M882.3 108Q882.3 103.6 885.8 103.6Q889.3 103.6 889.3 108L889.3 141L882.3 144.5Z" fill="#fff" stroke="none" stroke-width="0" />
<path d="M887.3 136L889.3 135L889.3 141L887.3 142Z" fill="#333" stroke="none" stroke-width="0" />
<path d="M862 168.6L907.3 147.5L981 175Q992 180 997 192L948 203Z" fill="url(#pf2)" stroke="none" stroke-width="0" />
<path d="M884 158.5L907.3 147.5L930 156L900 172Z" fill="#7a7a7a" stroke="none" stroke-width="0" opacity="0.5"/>
<path d="M862 169.8L946 200.3" fill="none" stroke="#e6e6e6" stroke-width="3.2" stroke-linecap="round"/>
<path d="M882 178.5L882 172" fill="none" stroke="#f6f6f6" stroke-width="2.4" />
<path d="M920 178.5Q920 172 934 172Q944 172 953 180Q944 185.5 934 185.5Q920 185 920 178.5Z" fill="#fff" stroke="none" stroke-width="0" />
<path d="M922 176Q926 171.6 936 172" fill="none" stroke="#111" stroke-width="1.8" />
<path d="M957 206Q962 196 972 192L990 180Q997.2 186 997.2 200L997.2 231Q996 241 988 245L958 262Z" fill="url(#pf3)" stroke="none" stroke-width="0" />
<path d="M948 203Q956 190 981 175Q991 179 995 188L962 207Q958 200 948 203Z" fill="url(#pf3b)" stroke="none" stroke-width="0" />
<path d="M944 201.5Q954 199 957 208L957.5 258Q956.5 268 944 271L938 270.5Q949 268 950 258L950 212Q950 205 944 201.5Z" fill="url(#pf7)" stroke="none" stroke-width="0" />
<path d="M958 210L958.5 258" fill="none" stroke="#262626" stroke-width="1.8" />
<ellipse cx="933.6" cy="216.6" rx="14" ry="10" fill="url(#pf6)"/>
<rect x="941" y="213" width="8" height="8.5" fill="#c4c4c4"/>
<path d="M921 214Q921 208 933 207.5" fill="none" stroke="#efefef" stroke-width="1.5" />
<path d="M965.5 224L970 220L976 221L976 236L970 237.5L965.5 234.5Z" fill="#161616" stroke="none" stroke-width="0" />
<path d="M970 220L973 217.5L979 218.5L976 221Z" fill="#5e5e5e" stroke="none" stroke-width="0" />
<path d="M976 221Q983 217 988 222L988 235Q983 240 976 236Z" fill="#c2c2c2" stroke="none" stroke-width="0" />
<path d="M860.8 259.5L906.3 235.6L950 239.5L950 262Q946 270 938 270.5Z" fill="url(#pf4)" stroke="none" stroke-width="0" />
<path d="M861 260.8L940 271.5" fill="none" stroke="#e8e8e8" stroke-width="2.8" stroke-linecap="round"/>
<ellipse cx="934" cy="253" rx="13" ry="4.9" fill="#fff"/>
<path d="M922 251Q927 247.6 936 248" fill="none" stroke="#151515" stroke-width="1.5" />
<path d="M859.7 262L907.4 268.5L907.4 304.5Q888 316 859.7 321Z" fill="url(#pf5)" stroke="none" stroke-width="0" />
<path d="M860.5 262L860.5 320.5" fill="none" stroke="#f0f0f0" stroke-width="2.2" />
<path d="M860.5 263L907 269.2" fill="none" stroke="#d9d9d9" stroke-width="1.6" />
<path d="M880.5 266.5L888.5 267.5L888.5 300Q888.5 304.6 884.5 305Q880.5 305 880.5 300.5Z" fill="#fff" stroke="none" stroke-width="0" />
<path d="M880.5 266.5L883 266.8L883 303L880.5 300.5Z" fill="#7a7a7a" stroke="none" stroke-width="0" opacity="0.8"/>
<path d="M884 298Q888.5 298 888.5 302Q886 305 883.5 304Z" fill="#333" stroke="none" stroke-width="0" />
</g>
<rect x="467" y="0" width="1.2" height="647" fill="#000"/>
<rect x="478" y="1.6" width="540" height="1.3" fill="#000"/>
<g stroke-linejoin="round">
<path d="M514.3 87Q551.9 75.8 589.5 87L589.5 312.7Q551.9 324.3 514.3 312.7Z" fill="#9daeb8" stroke="#000" stroke-width="0.9" />
<rect x="543.3" y="92.1" width="17.2" height="46.2" rx="8.6" fill="#fff" stroke="#000" stroke-width="0.95"/>
<rect x="543.3" y="261.4" width="17.2" height="47" rx="8.6" fill="#fff" stroke="#000" stroke-width="0.95"/>
<path d="M514.3 148.7L589.5 148.7" stroke="#000" stroke-width="0.9"/>
<path d="M514.3 151.1L589.5 151.1" stroke="#000" stroke-width="0.9"/>
<path d="M514.3 160.1L589.5 160.1" stroke="#000" stroke-width="0.9"/>
<path d="M514.3 240.6L589.5 240.6" stroke="#000" stroke-width="0.9"/>
<path d="M514.3 249.6L589.5 249.6" stroke="#000" stroke-width="0.9"/>
<path d="M514.3 252L589.5 252" stroke="#000" stroke-width="0.9"/>
<path d="M525.1 161L525.1 239.8" stroke="#000" stroke-width="0.7"/>
<path d="M527.1 161L527.1 239.8" stroke="#000" stroke-width="0.7"/>
<path d="M576.4 161L576.4 239.8" stroke="#000" stroke-width="0.7"/>
<path d="M578.4 161L578.4 239.8" stroke="#000" stroke-width="0.7"/>
<ellipse cx="551.9" cy="157.3" rx="15.6" ry="1.7" fill="#9daeb8" stroke="#000" stroke-width="0.7"/>
<ellipse cx="551.9" cy="243.4" rx="15.6" ry="1.7" fill="#9daeb8" stroke="#000" stroke-width="0.7"/>
<path d="M543.8 159.5L543.8 143.2Q547.5 141 551.9 143Q556.5 144.6 561.3 142.6L561.3 159.5" fill="#9daeb8" stroke="#000" stroke-width="0.9" />
<path d="M543.8 241.4L543.8 256.6Q547.5 258.8 551.9 257Q556.5 255.2 561.3 257.4L561.3 241.4" fill="#9daeb8" stroke="#000" stroke-width="0.9" />
<path d="M567.2 199.7 L559.5 213 L544.2 213 L536.6 199.7 L544.2 186.4 L559.5 186.4Z" fill="#9daeb8" stroke="#000" stroke-width="0.9" />
<path d="M565.9 199.7 L558.9 211.8 L544.9 211.8 L537.9 199.7 L544.9 187.6 L558.9 187.6Z" fill="none" stroke="#000" stroke-width="0.5" />
<circle cx="551.9" cy="199.7" r="9.3" fill="none" stroke="#000" stroke-width="0.7"/>
<circle cx="551.9" cy="199.7" r="7.2" fill="none" stroke="#000" stroke-width="1.6"/>
<circle cx="551.9" cy="199.7" r="5.2" fill="none" stroke="#000" stroke-width="0.6"/>
<path d="M551.9 86L551.9 315" stroke="#000" stroke-width="0.9"/>
</g>
<path d="M501.1 81.4L501.1 318.5" stroke="#000" stroke-width="0.9"/>
<path d="M501.1 81.4L546 81.4" stroke="#000" stroke-width="0.9"/>
<path d="M501.1 318.5L546 318.5" stroke="#000" stroke-width="0.9"/>
<path d="M499.1 100.5L563.3 100.5" stroke="#000" stroke-width="0.9"/>
<path d="M499.1 130.3L563.3 130.3" stroke="#000" stroke-width="0.9"/>
<path d="M499.1 269.5L563.3 269.5" stroke="#000" stroke-width="0.9"/>
<path d="M499.1 300.6L563.3 300.6" stroke="#000" stroke-width="0.9"/>
<path d="M501.1 81.4L502.5 86.4L499.7 86.4Z" fill="#000" stroke="none"/>
<path d="M501.1 100.5L499.7 95.5L502.5 95.5Z" fill="#000" stroke="none"/>
<path d="M501.1 100.5L502.5 105.5L499.7 105.5Z" fill="#000" stroke="none"/>
<path d="M501.1 130.3L499.7 125.3L502.5 125.3Z" fill="#000" stroke="none"/>
<path d="M501.1 130.3L502.5 135.3L499.7 135.3Z" fill="#000" stroke="none"/>
<path d="M501.1 269.5L499.7 264.5L502.5 264.5Z" fill="#000" stroke="none"/>
<path d="M501.1 269.5L502.5 274.5L499.7 274.5Z" fill="#000" stroke="none"/>
<path d="M501.1 300.6L499.7 295.6L502.5 295.6Z" fill="#000" stroke="none"/>
<path d="M501.1 300.6L502.5 305.6L499.7 305.6Z" fill="#000" stroke="none"/>
<path d="M501.1 318.5L499.7 313.5L502.5 313.5Z" fill="#000" stroke="none"/>
<text x="496.2" y="87.3" font-size="14" textLength="25.6" lengthAdjust="spacingAndGlyphs" transform="rotate(-90 496.2 87.3)" text-anchor="middle" >12.5</text>
<text x="496.2" y="116.6" font-size="14" textLength="15.8" lengthAdjust="spacingAndGlyphs" transform="rotate(-90 496.2 116.6)" text-anchor="middle" >20</text>
<text x="496.2" y="200.5" font-size="14" textLength="15.8" lengthAdjust="spacingAndGlyphs" transform="rotate(-90 496.2 200.5)" text-anchor="middle" >92</text>
<text x="496.2" y="285" font-size="14" textLength="15.8" lengthAdjust="spacingAndGlyphs" transform="rotate(-90 496.2 285)" text-anchor="middle" >20</text>
<text x="496.2" y="312.3" font-size="14" textLength="25.6" lengthAdjust="spacingAndGlyphs" transform="rotate(-90 496.2 312.3)" text-anchor="middle" >12.5</text>
<g stroke-linejoin="round">
<path d="M638 81.8L638 148.6Q638 152.6 642 153.1L719.5 163L729 163Q745.3 163 745.3 180L745.3 219Q745.3 236.1 729 236.1L719.5 236.1L642 246Q638 246.5 638 250.6L638 318.5" fill="none" stroke="#000" stroke-width="5" stroke-linecap="butt"/>
<path d="M638 81.8L638 148.6Q638 152.6 642 153.1L719.5 163L729 163Q745.3 163 745.3 180L745.3 219Q745.3 236.1 729 236.1L719.5 236.1L642 246Q638 246.5 638 250.6L638 318.5" fill="none" stroke="#9daeb8" stroke-width="3.4" stroke-linecap="butt"/>
<path d="M709 165.7L719.5 167L727 167Q740.6 167 740.6 181L740.6 218Q740.6 232.1 727 232.1L719.5 232.1L709 233.4" fill="none" stroke="#000" stroke-width="4.4"/><path d="M709 165.7L719.5 167L727 167Q740.6 167 740.6 181L740.6 218Q740.6 232.1 727 232.1L719.5 232.1L709 233.4" fill="none" stroke="#9daeb8" stroke-width="2.8"/>
<path d="M635.2 81.8L640.8 81.8" stroke="#000" stroke-width="0.9"/>
<path d="M635.2 318.5L640.8 318.5" stroke="#000" stroke-width="0.9"/>
<path d="M635.4 92L640.6 92" stroke="#000" stroke-width="0.7"/>
<path d="M635.4 144L640.6 144" stroke="#000" stroke-width="0.7"/>
<path d="M635.4 256L640.6 256" stroke="#000" stroke-width="0.7"/>
<path d="M635.4 308L640.6 308" stroke="#000" stroke-width="0.7"/>
<path d="M683 154.1L683 162.5" stroke="#000" stroke-width="0.7"/>
<path d="M719.5 160.8L719.5 169.2" stroke="#000" stroke-width="0.7"/>
<path d="M683 236.6L683 245" stroke="#000" stroke-width="0.7"/>
<path d="M719.5 229.8L719.5 238.2" stroke="#000" stroke-width="0.7"/>
<path d="M709.1 192.7L758 192.7Q761.7 192.7 761.7 196L761.7 204Q761.7 207.4 758 207.4L709.1 207.4Z" fill="#9daeb8" stroke="#000" stroke-width="0.9" />
<path d="M747.6 188.2L759.5 188.2L759.5 192.7L747.6 192.7Z" fill="#9daeb8" stroke="#000" stroke-width="0.9" />
<path d="M747.6 207.4L759.5 207.4L759.5 212.4L747.6 212.4Z" fill="#9daeb8" stroke="#000" stroke-width="0.9" />
<path d="M690.3 193.2L686.5 193.2Q684.2 193.2 684.2 196L684.2 203.5Q684.2 206.1 686.5 206.1L690.3 206.1Z" fill="#9daeb8" stroke="#000" stroke-width="0.9" />
<path d="M690.3 259L690.3 143Q695 140.8 699.7 142.6Q704.4 144.4 709.1 142.2L709.1 258.4Q704.4 260.6 699.7 258.8Q695 257 690.3 259Z" fill="#9daeb8" stroke="#000" stroke-width="0.9" />
</g>
<path d="M699.6 70L699.6 259" stroke="#000" stroke-width="0.9"/>
<path d="M635.3 64L635.3 81" stroke="#000" stroke-width="0.9"/>
<path d="M635.3 70L699.6 70" stroke="#000" stroke-width="0.9"/>
<path d="M635.3 70L640.3 68.6L640.3 71.4Z" fill="#000" stroke="none"/>
<path d="M699.6 70L694.6 71.4L694.6 68.6Z" fill="#000" stroke="none"/>
<text x="667.3" y="66.6" font-size="14.2" text-anchor="middle" >H</text>
<path d="M690.3 126L690.3 142" stroke="#000" stroke-width="0.9"/>
<path d="M709.1 126L709.1 142" stroke="#000" stroke-width="0.9"/>
<path d="M676 130.2L732 130.2" stroke="#000" stroke-width="0.9"/>
<path d="M690.3 130.2L685.3 131.6L685.3 128.8Z" fill="#000" stroke="none"/>
<path d="M709.1 130.2L714.1 128.8L714.1 131.6Z" fill="#000" stroke="none"/>
<text x="716.6" y="123.6" font-size="14.2" textLength="18" lengthAdjust="spacingAndGlyphs" >Dp</text>
<path d="M709.6 99.6L797.7 99.6" stroke="#000" stroke-width="0.9"/>
<path d="M753.4 99.6L753.4 188" stroke="#000" stroke-width="0.9"/>
<text x="719.4" y="96.6" font-size="14.3" textLength="58.6" lengthAdjust="spacingAndGlyphs" >Llave 17</text>
<path d="M732.5 160.3L786 160.3" stroke="#000" stroke-width="0.9"/>
<path d="M732.5 238.8L786 238.8" stroke="#000" stroke-width="0.9"/>
<path d="M783.3 160.3L783.3 238.8" stroke="#000" stroke-width="0.9"/>
<path d="M783.3 160.3L784.7 165.3L781.9 165.3Z" fill="#000" stroke="none"/>
<path d="M783.3 238.8L781.9 233.8L784.7 233.8Z" fill="#000" stroke="none"/>
<text x="781" y="199.3" font-size="14" textLength="15.8" lengthAdjust="spacingAndGlyphs" transform="rotate(-90 781 199.3)" text-anchor="middle" >50</text>
<path d="M622.2 81.8L622.2 318.5" stroke="#000" stroke-width="0.9"/>
<path d="M620.7 81.8L636 81.8" stroke="#000" stroke-width="0.9"/>
<path d="M620.7 150.5L636 150.5" stroke="#000" stroke-width="0.9"/>
<path d="M620.7 248.5L636 248.5" stroke="#000" stroke-width="0.9"/>
<path d="M620.7 318.5L636 318.5" stroke="#000" stroke-width="0.9"/>
<path d="M622.2 81.8L623.6 86.8L620.8 86.8Z" fill="#000" stroke="none"/>
<path d="M622.2 150.5L620.8 145.5L623.6 145.5Z" fill="#000" stroke="none"/>
<path d="M622.2 150.5L623.6 155.5L620.8 155.5Z" fill="#000" stroke="none"/>
<path d="M622.2 248.5L620.8 243.5L623.6 243.5Z" fill="#000" stroke="none"/>
<path d="M622.2 248.5L623.6 253.5L620.8 253.5Z" fill="#000" stroke="none"/>
<path d="M622.2 318.5L620.8 313.5L623.6 313.5Z" fill="#000" stroke="none"/>
<text x="618.6" y="118.2" font-size="14" textLength="15.8" lengthAdjust="spacingAndGlyphs" transform="rotate(-90 618.6 118.2)" text-anchor="middle" >46</text>
<text x="618.6" y="199.5" font-size="14" textLength="26" lengthAdjust="spacingAndGlyphs" transform="rotate(-90 618.6 199.5)" text-anchor="middle" >64.8</text>
<text x="618.6" y="284" font-size="14" textLength="15.8" lengthAdjust="spacingAndGlyphs" transform="rotate(-90 618.6 284)" text-anchor="middle" >46</text>
<path d="M635.3 318.5L635.3 331" stroke="#000" stroke-width="0.9"/>
<path d="M640.7 318.5L640.7 331" stroke="#000" stroke-width="0.9"/>
<path d="M626 327.2L658.8 327.2" stroke="#000" stroke-width="0.9"/>
<path d="M635.3 327.2L630.3 328.6L630.3 325.8Z" fill="#000" stroke="none"/>
<path d="M640.7 327.2L645.7 325.8L645.7 328.6Z" fill="#000" stroke="none"/>
<text x="649.2" y="324.4" font-size="14.2" >3</text>
<path d="M635.3 331L635.3 342" stroke="#000" stroke-width="0.9"/>
<path d="M747.7 238.8L747.7 342" stroke="#000" stroke-width="0.9"/>
<path d="M635.3 338.3L747.7 338.3" stroke="#000" stroke-width="0.9"/>
<path d="M635.3 338.3L640.3 336.9L640.3 339.7Z" fill="#000" stroke="none"/>
<path d="M747.7 338.3L742.7 339.7L742.7 336.9Z" fill="#000" stroke="none"/>
<text x="692" y="334.9" font-size="14.2" textLength="16" lengthAdjust="spacingAndGlyphs" text-anchor="middle" >74</text>
<g stroke-linejoin="round">
<path d="M635.4 355.6L747.8 355.6Q746.8 362 742 366.7Q747 371 747.8 378.6L747.8 407.5Q747 414.5 742 418.7Q746.8 423.5 747.8 430.3L635.4 430.3Z" fill="#9daeb8" stroke="#000" stroke-width="0.9" />
<path d="M747.8 378.6L757 378.6Q758.4 378.6 758.4 380L758.4 406Q758.4 407.5 757 407.5L747.8 407.5Z" fill="#9daeb8" stroke="#000" stroke-width="0.9" />
<path d="M747.8 385.5L758.4 385.5" stroke="#000" stroke-width="0.7"/>
<path d="M747.8 400.5L758.4 400.5" stroke="#000" stroke-width="0.7"/>
<path d="M758.4 385.3L761 385.3Q762 385.3 762 386.5L762 399Q762 400.2 761 400.2L758.4 400.2Z" fill="#9daeb8" stroke="#000" stroke-width="0.9" />
<circle cx="699.6" cy="393.2" r="15.6" fill="#9daeb8" stroke="#000" stroke-width="0.7"/>
<circle cx="699.6" cy="393.2" r="14.2" fill="none" stroke="#000" stroke-width="0.6"/>
<path d="M710 383.5L719.3 393.2L710 402.9Z" fill="#fff" stroke="#000" stroke-width="0.6" />
<circle cx="699.6" cy="393.2" r="12.8" fill="#9daeb8" stroke="#000" stroke-width="0.6"/>
<circle cx="699.6" cy="393.2" r="9.6" fill="none" stroke="#000" stroke-width="1.7"/>
</g>
<path d="M699.6 348L699.6 438.6" stroke="#000" stroke-width="0.9"/>
<path d="M635.4 393.2L747.8 393.2" stroke="#000" stroke-width="0.9"/>
<path d="M620.5 355.6L635.4 355.6" stroke="#000" stroke-width="0.9"/>
<path d="M620.5 430.3L635.4 430.3" stroke="#000" stroke-width="0.9"/>
<path d="M622.2 355.6L622.2 430.3" stroke="#000" stroke-width="0.9"/>
<path d="M622.2 355.6L623.6 360.6L620.8 360.6Z" fill="#000" stroke="none"/>
<path d="M622.2 430.3L620.8 425.3L623.6 425.3Z" fill="#000" stroke="none"/>
<text x="619.6" y="392" font-size="14" textLength="15.8" lengthAdjust="spacingAndGlyphs" transform="rotate(-90 619.6 392)" text-anchor="middle" >50</text>
<text x="702.5" y="29.5" font-size="22.5" textLength="164.7" lengthAdjust="spacingAndGlyphs" font-weight="bold" stroke="#000" stroke-width="0.5">Soporte lateral</text>
<text x="775.4" y="54.8" font-size="19.5" textLength="91.8" lengthAdjust="spacingAndGlyphs" fill="#7f7f7f" >(standard)</text>
<text x="901.2" y="37.4" font-size="21.5" textLength="45.8" lengthAdjust="spacingAndGlyphs" >Tipo</text>
<text x="960" y="37.4" font-size="30" textLength="63.6" lengthAdjust="spacingAndGlyphs" font-weight="bold" stroke="#000" stroke-width="1.1">408</text>
<text x="133" y="91.5" font-size="17" textLength="179.8" lengthAdjust="spacingAndGlyphs" font-weight="bold" >Ejemplo de aplicación</text>
<rect x="480.4" y="464.8" width="395.6" height="56.4" fill="#ebeded"/>
<rect x="480.4" y="541" width="395.6" height="18.6" fill="#ebeded"/>
<rect x="480.4" y="578.2" width="395.6" height="18.8" fill="#ebeded"/>
<rect x="480.4" y="501.9" width="287.4" height="1.2" fill="#000"/>
<rect x="480.4" y="520.6" width="395.6" height="1.2" fill="#000"/>
<rect x="480.4" y="596.7" width="395.6" height="1.3" fill="#000"/>
<rect x="818.6" y="523.2" width="42.6" height="17.4" fill="#6f9fd6"/>
<text x="570.3" y="481" font-size="15.5" textLength="19" lengthAdjust="spacingAndGlyphs" text-anchor="middle" >Dp</text>
<text x="516" y="499.5" font-size="15.5" textLength="108.3" lengthAdjust="spacingAndGlyphs" >Diámetro perno</text>
<text x="714" y="490" font-size="15.5" text-anchor="middle" >H</text>
<text x="570.3" y="518.8" font-size="15.5" textLength="36" lengthAdjust="spacingAndGlyphs" text-anchor="middle" >(mm)</text>
<text x="714" y="518.8" font-size="15.5" textLength="36" lengthAdjust="spacingAndGlyphs" text-anchor="middle" >(mm)</text>
<text x="796.7" y="500" font-size="15.5" textLength="50" lengthAdjust="spacingAndGlyphs" >Código</text>
<text x="570.3" y="536.6" font-size="15.5" textLength="18.4" lengthAdjust="spacingAndGlyphs" text-anchor="middle" >12</text>
<text x="714" y="536.6" font-size="15.5" textLength="18.4" lengthAdjust="spacingAndGlyphs" text-anchor="middle" >49</text>
<text x="784" y="536.6" font-size="14.5" textLength="76.3" lengthAdjust="spacingAndGlyphs" font-weight="bold" >408 / 84334</text>
<text x="570.3" y="555.3" font-size="15.5" textLength="18.4" lengthAdjust="spacingAndGlyphs" text-anchor="middle" >14</text>
<text x="714" y="555.3" font-size="15.5" textLength="18.4" lengthAdjust="spacingAndGlyphs" text-anchor="middle" >47</text>
<text x="784" y="555.3" font-size="14.5" textLength="76.3" lengthAdjust="spacingAndGlyphs" font-weight="bold" >408 / 84335</text>
<text x="570.3" y="573.9" font-size="15.5" textLength="18.4" lengthAdjust="spacingAndGlyphs" text-anchor="middle" >16</text>
<text x="714" y="573.9" font-size="15.5" textLength="18.4" lengthAdjust="spacingAndGlyphs" text-anchor="middle" >46</text>
<text x="784" y="573.9" font-size="14.5" textLength="76.3" lengthAdjust="spacingAndGlyphs" font-weight="bold" >408 / 84336</text>
<text x="570.3" y="592.8" font-size="15.5" textLength="18.4" lengthAdjust="spacingAndGlyphs" text-anchor="middle" >20</text>
<text x="714" y="592.8" font-size="15.5" textLength="18.4" lengthAdjust="spacingAndGlyphs" text-anchor="middle" >43</text>
<text x="784" y="592.8" font-size="14.5" textLength="76.3" lengthAdjust="spacingAndGlyphs" font-weight="bold" >408 / 88700</text>
<defs><linearGradient id="ng" x1="0" y1="0" x2="1" y2="0"><stop offset="0" stop-color="#b00a1c"/><stop offset="0.25" stop-color="#d4041c"/><stop offset="1" stop-color="#de0420"/></linearGradient></defs>
<path d="M878.2 597.5L890.9 592.5L890.9 597.5Z" fill="#4a070d"/>
<path d="M878.2 579.6L909.8 566.8L910.2 584.2L878.2 597.5Z" fill="url(#ng)"/>
<text x="881.8" y="590.7" font-size="10.5" font-weight="bold" font-style="italic" fill="#fff" textLength="25.5" lengthAdjust="spacingAndGlyphs" transform="rotate(-22 881.8 590.7)">NEW</text>
<text x="480.4" y="622.6" font-size="15.6" textLength="89" lengthAdjust="spacingAndGlyphs" font-weight="bold" >MATERIALES:</text>
<text x="573.9" y="622.6" font-size="15.6" textLength="434.6" lengthAdjust="spacingAndGlyphs" >Cuerpo del soporte, tuerca y perno de ojo de acero inoxidable AISI 304.</text>
<text x="480.4" y="643.4" font-size="15.6" textLength="126.7" lengthAdjust="spacingAndGlyphs" font-weight="bold" >CARACTERÍSTICAS:</text>
<text x="611.8" y="643.4" font-size="15.6" textLength="220.8" lengthAdjust="spacingAndGlyphs" >Suministrado completo de pernería.</text>
</svg>
</body></html>
